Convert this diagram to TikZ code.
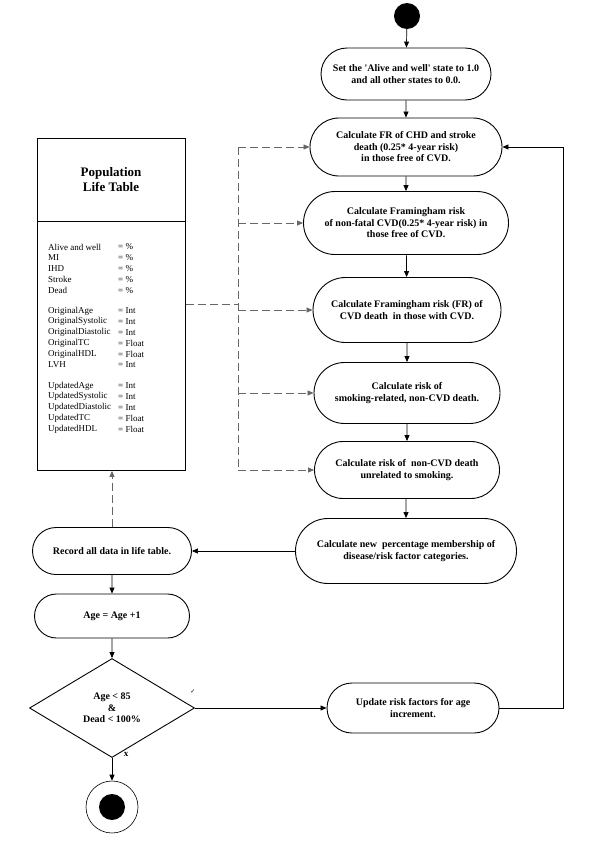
\documentclass[tikz,border=0pt]{standalone}
\usepackage{fontspec}
\setmainfont{Liberation Serif}
\newfontfamily\symbolfont{DejaVu Sans}
\usetikzlibrary{shapes.misc, shapes.geometric, arrows.meta, positioning, calc}

\begin{document}
\begin{tikzpicture}[
    x=1pt, y=-1pt,
    >={Triangle[length=6pt, width=5pt]},
    % Activity box style
    stepbox/.style={rounded rectangle, draw, line width=0.9pt, align=center, inner sep=2pt,
        font=\bfseries\fontsize{10}{11.5}\selectfont},
    % Decision style
    decision/.style={diamond, draw, line width=0.9pt, align=center, inner sep=0pt,
        font=\bfseries\fontsize{10}{11.5}\selectfont},
    % Start / end markers
    startdot/.style={circle, fill=black, minimum size=26pt, inner sep=0pt},
    endring/.style={circle, draw, line width=0.6pt, minimum size=52pt, inner sep=0pt},
    % Connector styles
    flow/.style={->, line width=0.7pt},
    dataflow/.style={gray!80!black, line width=0.7pt, dash pattern=on 8pt off 4pt},
    % Life table text styles
    tabletitle/.style={font=\bfseries\fontsize{13}{15}\selectfont, align=center},
    tableentry/.style={anchor=west, inner sep=0pt, font=\fontsize{9}{10.8}\selectfont},
    guardlabel/.style={font=\bfseries\fontsize{9}{11}\selectfont}
]
    \useasboundingbox (0,0) rectangle (600,849);

    % === MAIN FLOW ===
    \node[startdot] (start) at (407,16) {};

    \node[stepbox, minimum width=174pt, minimum height=52pt] (b1) at (406,74)
        {Set the \textquotesingle Alive and well\textquotesingle\ state to 1.0\\and all other states to 0.0.};
    \node[stepbox, minimum width=196pt, minimum height=58pt] (b2) at (406,147)
        {Calculate FR of CHD and stroke\\death (0.25* 4-year risk)\\in those free of CVD.};
    \node[stepbox, minimum width=209pt, minimum height=63pt] (b3) at (406,223)
        {Calculate Framingham risk\\of non-fatal CVD(0.25* 4-year risk) in\\those free of CVD.};
    \node[stepbox, minimum width=192pt, minimum height=65pt] (b4) at (407,310)
        {Calculate Framingham risk (FR) of\\CVD death\ \ in those with CVD.};
    \node[stepbox, minimum width=190pt, minimum height=61pt] (b5) at (407,393)
        {Calculate risk of\\smoking-related, non-CVD death.};
    \node[stepbox, minimum width=189pt, minimum height=57pt] (b6) at (407,470)
        {Calculate risk of\ \ non-CVD death\\unrelated to smoking.};
    \node[stepbox, minimum width=225pt, minimum height=65pt] (b7) at (406,551)
        {Calculate new\ \ percentage membership of\\disease/risk factor categories.};
    \node[stepbox, minimum width=176pt, minimum height=50pt] (b8) at (413,708)
        {Update risk factors for age\\increment.};

    \draw[flow] (start) -- (b1);
    \draw[flow] (b1) -- (b2);
    \draw[flow] (b2) -- (b3);
    \draw[flow] (b3) -- (b4);
    \draw[flow] (b4) -- (b5);
    \draw[flow] (b5) -- (b6);
    \draw[flow] (b6) -- (b7.north |- b6.south) -- (b7);

    % Loop back to the first risk step
    \coordinate (loop) at (563,147);
    \draw[flow] (b8.east) -| (loop) -- (b2.east);

    % === LEFT COLUMN ===
    \node[stepbox, minimum width=163pt, minimum height=47pt] (record) at (112,551)
        {Record all data in life table.};
    \node[stepbox, minimum width=159pt, minimum height=44pt] (age) at (112,616)
        {Age = Age +1};
    \node[decision, minimum width=165pt, minimum height=99pt] (check) at (112,708)
        {Age < 85\\\&\\Dead < 100\%};
    \node[endring] (stop) at (112,807) {};
    \node[startdot] at (stop) {};

    \draw[flow] (b7.west) -- (record.east);
    \draw[flow] (record) -- (age);
    \draw[flow] (age) -- (check);
    \draw[flow] (check.east) -- (b8.west);
    \draw[flow] (check.south) -- (stop.north);

    \node[font=\symbolfont\fontsize{6}{6}\selectfont] (yes) at (193,692) {✓};
    \node[guardlabel] (no) at (126,754) {x};

    % === POPULATION LIFE TABLE ===
    \node[draw, line width=0.9pt, minimum width=148pt, minimum height=332pt, inner sep=0pt,
        anchor=north west] (table) at (37,138) {};
    \draw[line width=0.9pt] (table.west |- 0,221) -- (table.east |- 0,221);
    \node[tabletitle] (title) at (111,180) {Population\\Life Table};

    \foreach \name/\val [count=\i from 0] in {Alive and well/\%, MI/\%, IHD/\%, Stroke/\%, Dead/\%} {
        \node[tableentry] at (48,247+10.8*\i) {\name};
        \node[tableentry] at (118,247+10.8*\i) {= \val};
    }
    \foreach \name/\val [count=\i from 0] in {OriginalAge/Int, OriginalSystolic/Int,
        OriginalDiastolic/Int, OriginalTC/Float, OriginalHDL/Float, LVH/Int} {
        \node[tableentry] at (48,311+10.8*\i) {\name};
        \node[tableentry] at (118,311+10.8*\i) {= \val};
    }
    \foreach \name/\val [count=\i from 0] in {UpdatedAge/Int, UpdatedSystolic/Int,
        UpdatedDiastolic/Int, UpdatedTC/Float, UpdatedHDL/Float} {
        \node[tableentry] at (48,386+10.8*\i) {\name};
        \node[tableentry] at (118,386+10.8*\i) {= \val};
    }

    % === DATA LINKS ===
    \coordinate (bus) at (238,304);
    \draw[dataflow] (table.east |- bus) -- (bus);
    \draw[dataflow] (bus |- b2) -- (bus |- b6);
    \foreach \b in {b2, b3, b4, b5, b6}
        \draw[dataflow, ->] (bus |- \b) -- (\b);
    \draw[dataflow, ->] (record.north) -- (record.north |- table.south);

\end{tikzpicture}
\end{document}
